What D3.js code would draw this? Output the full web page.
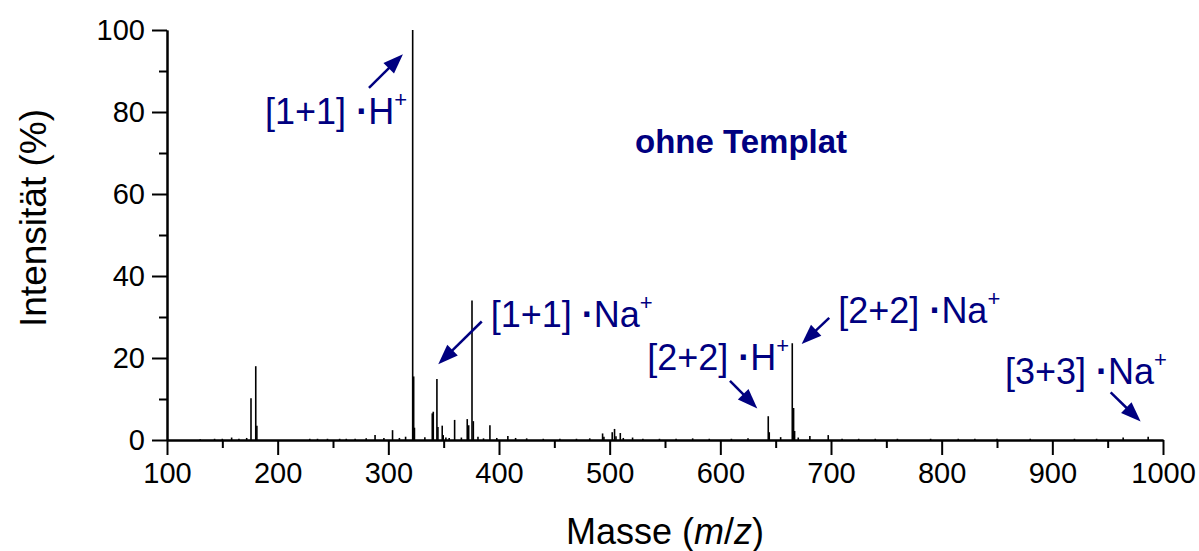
<!DOCTYPE html>
<html>
<meta charset="utf-8">
<head>
    <title>ohne Templat - Massenspektrum</title>
    <script src="https://d3js.org/d3.v7.min.js"></script>
    <style>
    body { margin: 0; background: #fff; }
    text { font-family: Arial, "Liberation Sans", sans-serif; }
    </style>
</head>
<body>
<script>

// Peaks of the spectrum (m/z and intensity in %)
var peakMz = [175.9, 180.2, 181.2, 288.0, 303.8, 322.0, 322.9, 323.6,
    339.7, 340.6, 343.9, 344.8, 348.7, 349.6, 359.9, 371.3, 372.6, 375.6, 376.8, 391.8,
    493.6, 494.8, 502.3, 504.4, 505.7, 509.6, 512.3,
    643.3, 644.2, 665.0, 666.2, 667.1];
var peakInt = [10.2, 18.0, 3.5, 1.2, 2.4, 100, 15.5, 3.0,
    6.5, 6.9, 14.9, 3.2, 3.5, 1.2, 4.9, 5.1, 3.6, 34.0, 4.6, 3.6,
    1.6, 0.8, 1.9, 2.7, 0.9, 1.7, 0.5,
    5.8, 1.9, 23.6, 7.8, 2.2];

// Small peaks near the baseline
var noiseMz = [130, 143, 150, 158.4, 165, 172, 229, 236, 245, 256, 262, 270, 280,
    296, 310, 315.6, 333, 352, 355, 366, 381, 386, 398, 408, 415, 425, 440, 455, 470,
    482, 520.7, 530, 545, 560, 575, 590, 610, 625, 654.5, 670.4, 680.9, 697.5, 710,
    725, 740, 760, 790, 815, 830, 850, 880, 920, 940, 964, 986.6];
var noiseInt = [0.2, 0.3, 0.3, 0.6, 0.3, 0.5, 0.3, 0.3, 0.3, 0.3, 0.3, 0.3, 0.4,
    0.5, 0.5, 0.8, 0.7, 0.6, 0.5, 0.6, 0.8, 0.4, 0.5, 1.0, 0.5, 0.4, 0.3, 0.3, 0.3,
    0.4, 0.6, 0.3, 0.3, 0.3, 0.4, 0.3, 0.3, 0.4, 0.7, 0.6, 1.0, 1.2, 0.3,
    0.3, 0.3, 0.3, 0.3, 0.3, 0.3, 0.3, 0.3, 0.3, 0.3, 0.6, 0.8];

// Axis ticks
var xTicks = [100, 200, 300, 400, 500, 600, 700, 800, 900, 1000];
var xMinor = [150, 250, 350, 450, 550, 650, 750, 850, 950];
var yTicks = [0, 20, 40, 60, 80, 100];
var yMinor = [10, 30, 50, 70, 90];

// Annotations: label start, arrow tail and arrow tip (data units)
var labelPre = ["[1+1] ", "[1+1] ", "[2+2] ", "[2+2] ", "[3+3] "];
var labelIon = ["H", "Na", "H", "Na", "Na"];
var labelMz = [188.6, 392.5, 534.0, 706.6, 857.2];
var labelInt = [77.1, 27.6, 17.1, 28.5, 13.7];
var tailMz = [282.5, 384.4, 608.7, 698.4, 952.7];
var tailInt = [85.9, 28.9, 14.4, 29.8, 11.6];
var tipMz = [313.2, 345.1, 633.4, 673.5, 979.8];
var tipInt = [94.1, 18.5, 7.7, 23.4, 4.5];

var width = 1199;
var height = 551;
var margin = {top: 30, right: 36, bottom: 111, left: 167};
var navy = "#000080";

var svg = d3.select("body")
    .append("svg")
    .attr("width", width)
    .attr("height", height);

var x = d3.scaleLinear()
    .domain([100, 1000])
    .range([margin.left, width - margin.right]);

var y = d3.scaleLinear()
    .domain([0, 100])
    .range([height - margin.bottom, margin.top]);

// Stick spectrum
var peaks = noiseMz.map(function(m, i) { return {mz: m, v: noiseInt[i]}; })
    .concat(peakMz.map(function(m, i) { return {mz: m, v: peakInt[i]}; }));

svg.append("g")
    .selectAll("line")
    .data(peaks)
    .enter()
    .append("line")
    .attr("x1", function(d) { return x(d.mz); })
    .attr("x2", function(d) { return x(d.mz); })
    .attr("y1", y(0))
    .attr("y2", function(d) { return y(d.v); })
    .attr("stroke", "#000")
    .attr("stroke-width", 1.6);

// Axes
function styleAxis(g) {
    g.selectAll("path").attr("stroke", "#000").attr("stroke-width", 2);
    g.selectAll("line").attr("stroke", "#000").attr("stroke-width", 2);
    g.selectAll("text").attr("fill", "#000").style("font-size", "29px")
        .style("font-family", "Arial, 'Liberation Sans', sans-serif");
}

svg.append("g")
    .attr("transform", "translate(0," + y(0) + ")")
    .call(d3.axisBottom(x).tickValues(xMinor).tickSize(8).tickSizeOuter(0).tickFormat(""))
    .call(styleAxis);

svg.append("g")
    .attr("transform", "translate(0," + y(0) + ")")
    .call(d3.axisBottom(x).tickValues(xTicks).tickSize(15).tickSizeOuter(0)
        .tickPadding(7).tickFormat(d3.format("d")))
    .call(styleAxis);

svg.append("g")
    .attr("transform", "translate(" + x(100) + ",0)")
    .call(d3.axisLeft(y).tickValues(yMinor).tickSize(8).tickSizeOuter(0).tickFormat(""))
    .call(styleAxis);

svg.append("g")
    .attr("transform", "translate(" + x(100) + ",0)")
    .call(d3.axisLeft(y).tickValues(yTicks).tickSize(15).tickSizeOuter(0).tickPadding(7))
    .call(styleAxis);

// Axis titles
svg.append("text")
    .attr("transform", "translate(46," + (margin.top + (y(0) - margin.top) / 2 - 17) + ") rotate(-90)")
    .attr("text-anchor", "middle")
    .style("font-size", "37px")
    .text("Intensität (%)");

var xt = svg.append("text")
    .attr("x", (x(100) + x(1000)) / 2)
    .attr("y", 544)
    .attr("text-anchor", "middle")
    .style("font-size", "36px");
xt.append("tspan").text("Masse (");
xt.append("tspan").style("font-style", "italic").text("m");
xt.append("tspan").text("/");
xt.append("tspan").style("font-style", "italic").text("z");
xt.append("tspan").text(")");

// Title inside the plot
svg.append("text")
    .attr("x", x(522.9))
    .attr("y", y(70))
    .attr("fill", navy)
    .style("font-size", "33px")
    .style("font-weight", "bold")
    .text("ohne Templat");

// Peak labels
labelPre.forEach(function(pre, i) {
    var t = svg.append("text")
        .attr("x", x(labelMz[i]))
        .attr("y", y(labelInt[i]))
        .attr("fill", navy)
        .style("font-size", "36px");
    t.append("tspan").text(pre);
    t.append("tspan").style("font-weight", "bold").text("·");
    t.append("tspan").text(labelIon[i]);
    t.append("tspan").attr("dy", -17).style("font-size", "22px").text("+");
});

// Arrows
var headLen = 20, headHalf = 7.5;
tailMz.forEach(function(m, i) {
    var x0 = x(m), y0 = y(tailInt[i]);
    var x1 = x(tipMz[i]), y1 = y(tipInt[i]);
    var dx = x1 - x0, dy = y1 - y0;
    var len = Math.sqrt(dx * dx + dy * dy);
    var ux = dx / len, uy = dy / len;
    var bx = x1 - ux * headLen, by = y1 - uy * headLen;
    svg.append("line")
        .attr("x1", x0).attr("y1", y0)
        .attr("x2", bx + ux * 2).attr("y2", by + uy * 2)
        .attr("stroke", navy)
        .attr("stroke-width", 2.5);
    svg.append("path")
        .attr("d", "M" + x1 + "," + y1 +
            "L" + (bx - uy * headHalf) + "," + (by + ux * headHalf) +
            "L" + (bx + uy * headHalf) + "," + (by - ux * headHalf) + "Z")
        .attr("fill", navy);
});

</script>
</body>
</html>
